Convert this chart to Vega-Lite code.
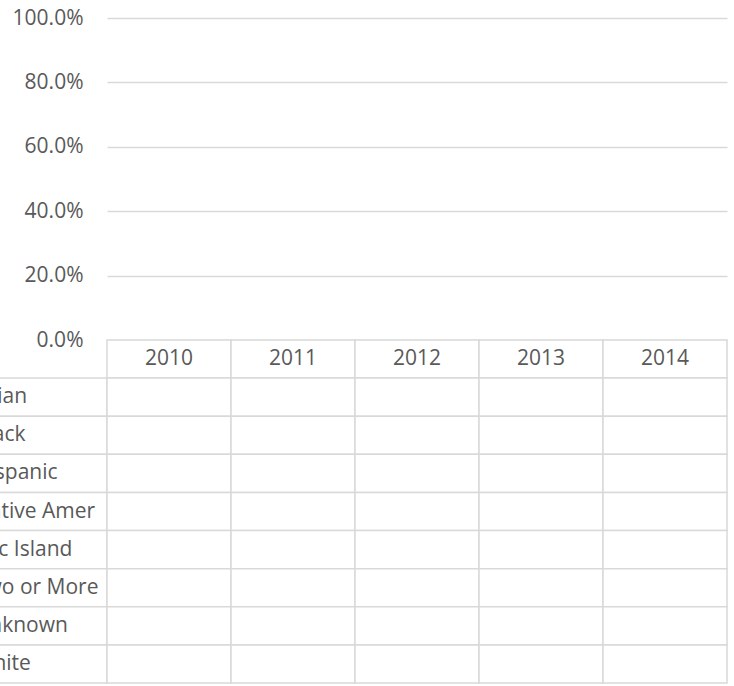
{
  "$schema": "https://vega.github.io/schema/vega-lite/v6.json",
  "width": 620,
  "height": 665,
  "autosize": {"type": "none"},
  "padding": {"left": 107, "top": 18, "right": 7, "bottom": 3},
  "background": "white",
  "config": {"view": {"stroke": null}, "font": "Open Sans"},
  "datasets": {
    "series": [
      {"year": "2010", "race": "Asian", "pct": null}, {"year": "2011", "race": "Asian", "pct": null}, {"year": "2012", "race": "Asian", "pct": null}, {"year": "2013", "race": "Asian", "pct": null}, {"year": "2014", "race": "Asian", "pct": null},
      {"year": "2010", "race": "Black", "pct": null}, {"year": "2011", "race": "Black", "pct": null}, {"year": "2012", "race": "Black", "pct": null}, {"year": "2013", "race": "Black", "pct": null}, {"year": "2014", "race": "Black", "pct": null},
      {"year": "2010", "race": "Hispanic", "pct": null}, {"year": "2011", "race": "Hispanic", "pct": null}, {"year": "2012", "race": "Hispanic", "pct": null}, {"year": "2013", "race": "Hispanic", "pct": null}, {"year": "2014", "race": "Hispanic", "pct": null},
      {"year": "2010", "race": "Native Amer", "pct": null}, {"year": "2011", "race": "Native Amer", "pct": null}, {"year": "2012", "race": "Native Amer", "pct": null}, {"year": "2013", "race": "Native Amer", "pct": null}, {"year": "2014", "race": "Native Amer", "pct": null},
      {"year": "2010", "race": "Pac Island", "pct": null}, {"year": "2011", "race": "Pac Island", "pct": null}, {"year": "2012", "race": "Pac Island", "pct": null}, {"year": "2013", "race": "Pac Island", "pct": null}, {"year": "2014", "race": "Pac Island", "pct": null},
      {"year": "2010", "race": "Two or More", "pct": null}, {"year": "2011", "race": "Two or More", "pct": null}, {"year": "2012", "race": "Two or More", "pct": null}, {"year": "2013", "race": "Two or More", "pct": null}, {"year": "2014", "race": "Two or More", "pct": null},
      {"year": "2010", "race": "Unknown", "pct": null}, {"year": "2011", "race": "Unknown", "pct": null}, {"year": "2012", "race": "Unknown", "pct": null}, {"year": "2013", "race": "Unknown", "pct": null}, {"year": "2014", "race": "Unknown", "pct": null},
      {"year": "2010", "race": "White", "pct": null}, {"year": "2011", "race": "White", "pct": null}, {"year": "2012", "race": "White", "pct": null}, {"year": "2013", "race": "White", "pct": null}, {"year": "2014", "race": "White", "pct": null}
    ],
    "table": [
      {"column": "2010", "row": "header", "text": "2010"}, {"column": "2011", "row": "header", "text": "2011"}, {"column": "2012", "row": "header", "text": "2012"}, {"column": "2013", "row": "header", "text": "2013"}, {"column": "2014", "row": "header", "text": "2014"},
      {"column": "label", "row": "Asian", "text": "Asian"}, {"column": "2010", "row": "Asian", "text": ""}, {"column": "2011", "row": "Asian", "text": ""}, {"column": "2012", "row": "Asian", "text": ""}, {"column": "2013", "row": "Asian", "text": ""}, {"column": "2014", "row": "Asian", "text": ""},
      {"column": "label", "row": "Black", "text": "Black"}, {"column": "2010", "row": "Black", "text": ""}, {"column": "2011", "row": "Black", "text": ""}, {"column": "2012", "row": "Black", "text": ""}, {"column": "2013", "row": "Black", "text": ""}, {"column": "2014", "row": "Black", "text": ""},
      {"column": "label", "row": "Hispanic", "text": "Hispanic"}, {"column": "2010", "row": "Hispanic", "text": ""}, {"column": "2011", "row": "Hispanic", "text": ""}, {"column": "2012", "row": "Hispanic", "text": ""}, {"column": "2013", "row": "Hispanic", "text": ""}, {"column": "2014", "row": "Hispanic", "text": ""},
      {"column": "label", "row": "Native Amer", "text": "Native Amer"}, {"column": "2010", "row": "Native Amer", "text": ""}, {"column": "2011", "row": "Native Amer", "text": ""}, {"column": "2012", "row": "Native Amer", "text": ""}, {"column": "2013", "row": "Native Amer", "text": ""}, {"column": "2014", "row": "Native Amer", "text": ""},
      {"column": "label", "row": "Pac Island", "text": "Pac Island"}, {"column": "2010", "row": "Pac Island", "text": ""}, {"column": "2011", "row": "Pac Island", "text": ""}, {"column": "2012", "row": "Pac Island", "text": ""}, {"column": "2013", "row": "Pac Island", "text": ""}, {"column": "2014", "row": "Pac Island", "text": ""},
      {"column": "label", "row": "Two or More", "text": "Two or More"}, {"column": "2010", "row": "Two or More", "text": ""}, {"column": "2011", "row": "Two or More", "text": ""}, {"column": "2012", "row": "Two or More", "text": ""}, {"column": "2013", "row": "Two or More", "text": ""}, {"column": "2014", "row": "Two or More", "text": ""},
      {"column": "label", "row": "Unknown", "text": "Unknown"}, {"column": "2010", "row": "Unknown", "text": ""}, {"column": "2011", "row": "Unknown", "text": ""}, {"column": "2012", "row": "Unknown", "text": ""}, {"column": "2013", "row": "Unknown", "text": ""}, {"column": "2014", "row": "Unknown", "text": ""},
      {"column": "label", "row": "White", "text": "White"}, {"column": "2010", "row": "White", "text": ""}, {"column": "2011", "row": "White", "text": ""}, {"column": "2012", "row": "White", "text": ""}, {"column": "2013", "row": "White", "text": ""}, {"column": "2014", "row": "White", "text": ""}
    ]
  },
  "layer": [
    {
      "data": {"name": "series"},
      "mark": "bar",
      "encoding": {
        "x": {"field": "year", "type": "nominal", "scale": {"domain": ["2010", "2011", "2012", "2013", "2014"], "range": [0, 620], "paddingInner": 0, "paddingOuter": 0}, "axis": null},
        "y": {
          "field": "pct", "type": "quantitative",
          "scale": {"domain": [0, 1], "range": [322, 0]},
          "axis": {"values": [0, 0.2, 0.4, 0.6, 0.8, 1], "format": ".1%", "title": null, "grid": true, "gridColor": "#d9d9d9", "gridWidth": 1.5, "domain": false, "ticks": false, "tickSize": 0, "labelPadding": 24, "labelFont": "Open Sans", "labelFontSize": 21, "labelColor": "#595959"}
        }
      }
    },
    {
      "data": {"name": "table"},
      "layer": [
        {
          "mark": {"type": "rect", "fill": "white", "stroke": "#d9d9d9", "strokeWidth": 1.5},
          "encoding": {
            "x": {"field": "column", "type": "nominal", "scale": {"domain": ["label", "2010", "2011", "2012", "2013", "2014"], "range": [-124, 620], "paddingInner": 0, "paddingOuter": 0}, "axis": null},
            "y": {"field": "row", "type": "nominal", "scale": {"domain": ["header", "Asian", "Black", "Hispanic", "Native Amer", "Pac Island", "Two or More", "Unknown", "White"], "range": [322, 665], "paddingInner": 0, "paddingOuter": 0}, "axis": null}
          }
        },
        {
          "transform": [{"filter": "datum.row === 'header'"}],
          "mark": {"type": "text", "font": "Open Sans", "fontSize": 21, "color": "#595959", "align": "center", "baseline": "middle"},
          "encoding": {
            "x": {"field": "column", "type": "nominal", "axis": null},
            "y": {"field": "row", "type": "nominal", "axis": null},
            "text": {"field": "text"}
          }
        },
        {
          "transform": [{"filter": "datum.column === 'label'"}],
          "mark": {"type": "text", "font": "Open Sans", "fontSize": 21, "color": "#595959", "align": "left", "baseline": "middle", "dx": -9},
          "encoding": {
            "x": {"field": "column", "type": "nominal", "bandPosition": 0, "axis": null},
            "y": {"field": "row", "type": "nominal", "axis": null},
            "text": {"field": "text"}
          }
        }
      ]
    }
  ],
  "resolve": {"scale": {"x": "independent", "y": "independent"}}
}
